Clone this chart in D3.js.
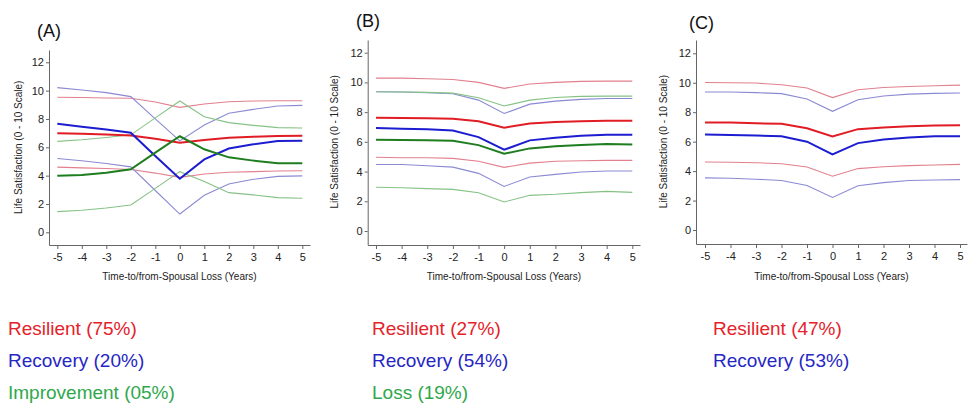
<!DOCTYPE html>
<meta charset="utf-8">
<style>
  body { margin: 0; background: #fff; }
  text { font-family: "Liberation Sans", Arial, sans-serif; }
</style>
<body></body>
<script src="https://d3js.org/d3.v7.min.js"></script>
<script>

var width = 968,
    height = 408;

var years = [-5, -4, -3, -2, -1, 0, 1, 2, 3, 4, 5];
var yTicks = [0, 2, 4, 6, 8, 10, 12];

// panel A
var aResMean = [7.0, 6.96, 6.91, 6.84, 6.6, 6.33, 6.52, 6.68, 6.75, 6.8, 6.82];
var aResHi   = [9.53, 9.51, 9.48, 9.46, 9.2, 8.82, 9.06, 9.22, 9.27, 9.29, 9.29];
var aResLo   = [4.6, 4.55, 4.5, 4.43, 4.18, 3.88, 4.12, 4.24, 4.28, 4.33, 4.35];
var aRecMean = [7.66, 7.45, 7.26, 7.03, 5.39, 3.78, 5.15, 5.91, 6.21, 6.45, 6.47];
var aRecHi   = [10.21, 10.05, 9.86, 9.58, 8.0, 6.45, 7.58, 8.4, 8.68, 8.92, 8.96];
var aRecLo   = [5.21, 5.05, 4.86, 4.62, 2.95, 1.29, 2.61, 3.41, 3.74, 3.95, 3.98];
var aImpMean = [3.99, 4.05, 4.2, 4.45, 5.62, 6.78, 5.86, 5.29, 5.06, 4.87, 4.87];
var aImpHi   = [6.42, 6.53, 6.69, 6.88, 8.08, 9.27, 8.16, 7.74, 7.55, 7.39, 7.36];
var aImpLo   = [1.46, 1.56, 1.72, 1.93, 3.1, 4.28, 3.58, 2.8, 2.64, 2.45, 2.4];

// panel B
var bResMean  = [7.62, 7.6, 7.58, 7.56, 7.38, 6.95, 7.24, 7.33, 7.38, 7.42, 7.42];
var bResHi    = [10.29, 10.29, 10.25, 10.2, 10.0, 9.6, 9.89, 10.0, 10.07, 10.09, 10.09];
var bResLo    = [4.96, 4.93, 4.93, 4.89, 4.69, 4.28, 4.57, 4.69, 4.73, 4.75, 4.75];
var bRecMean  = [6.93, 6.88, 6.84, 6.77, 6.32, 5.47, 6.1, 6.28, 6.41, 6.48, 6.48];
var bRecHi    = [9.37, 9.35, 9.31, 9.24, 8.81, 7.91, 8.54, 8.74, 8.86, 8.92, 8.92];
var bRecLo    = [4.48, 4.48, 4.39, 4.3, 3.88, 3.0, 3.63, 3.81, 3.97, 4.04, 4.04];
var bLossMean = [6.14, 6.12, 6.1, 6.08, 5.78, 5.2, 5.56, 5.7, 5.78, 5.85, 5.83];
var bLossHi   = [9.37, 9.36, 9.33, 9.28, 8.97, 8.41, 8.81, 8.99, 9.06, 9.08, 9.08];
var bLossLo   = [2.94, 2.91, 2.85, 2.8, 2.58, 1.95, 2.4, 2.47, 2.58, 2.67, 2.6];

// panel C
var cResMean = [7.3, 7.3, 7.25, 7.21, 6.91, 6.35, 6.85, 6.96, 7.05, 7.09, 7.12];
var cResHi   = [10.02, 10.0, 9.98, 9.86, 9.64, 8.99, 9.53, 9.68, 9.75, 9.8, 9.84];
var cResLo   = [4.62, 4.6, 4.57, 4.5, 4.28, 3.65, 4.17, 4.3, 4.37, 4.41, 4.46];
var cRecMean = [6.49, 6.46, 6.42, 6.37, 6.0, 5.14, 5.9, 6.15, 6.28, 6.37, 6.37];
var cRecHi   = [9.37, 9.37, 9.33, 9.26, 8.9, 8.06, 8.85, 9.1, 9.23, 9.28, 9.3];
var cRecLo   = [3.54, 3.51, 3.45, 3.36, 3.02, 2.21, 3.0, 3.22, 3.36, 3.4, 3.42];

var legendA = ["Resilient (75%)", "Recovery (20%)", "Improvement (05%)"];
var legendB = ["Resilient (27%)", "Recovery (54%)", "Loss (19%)"];
var legendC = ["Resilient (47%)", "Recovery (53%)"];

var thick = { red: "#e01c24", blue: "#1c1cd0", green: "#1e7d1e" },
    thin  = { red: "#e2808e", blue: "#8a8ad4", green: "#86c286" },
    textColor = { red: "#e5222a", blue: "#2626c4", green: "#2fa84c" };

var panels = [
  { label: "(A)", lx: 37, ly: 37, x0: 57.3, x1: 302.3, y0: 232.3, y12: 62.3,
    axL: 49, axR: 310, axT: 50, axB: 245, titleX: 18, legX: 8, legend: legendA,
    series: [
      { c: "red",   m: aResMean, hi: aResHi, lo: aResLo },
      { c: "blue",  m: aRecMean, hi: aRecHi, lo: aRecLo },
      { c: "green", m: aImpMean, hi: aImpHi, lo: aImpLo }
    ] },
  { label: "(B)", lx: 356, ly: 27, x0: 376, x1: 632.3, y0: 231, y12: 52.7,
    axL: 367.7, axR: 640, axT: 40, axB: 245, titleX: 334, legX: 372, legend: legendB,
    series: [
      { c: "red",   m: bResMean, hi: bResHi, lo: bResLo },
      { c: "blue",  m: bRecMean, hi: bRecHi, lo: bRecLo },
      { c: "green", m: bLossMean, hi: bLossHi, lo: bLossLo }
    ] },
  { label: "(C)", lx: 689, ly: 29, x0: 705, x1: 960, y0: 230, y12: 53.3,
    axL: 696, axR: 967, axT: 40, axB: 244, titleX: 663, legX: 713, legend: legendC,
    series: [
      { c: "red",  m: cResMean, hi: cResHi, lo: cResLo },
      { c: "blue", m: cRecMean, hi: cRecHi, lo: cRecLo }
    ] }
];

var legendColors = ["red", "blue", "green"];

var svg = d3.select("body").append("svg")
    .attr("width", width)
    .attr("height", height);

panels.forEach(function(p) {
  var x = d3.scaleLinear().domain([-5, 5]).range([p.x0, p.x1]),
      y = d3.scaleLinear().domain([0, 12]).range([p.y0, p.y12]);

  // axis scales cover the full drawn axis line
  var xa = d3.scaleLinear().domain([x.invert(p.axL), x.invert(p.axR)]).range([p.axL, p.axR]),
      ya = d3.scaleLinear().domain([y.invert(p.axB), y.invert(p.axT)]).range([p.axB, p.axT]);

  var g = svg.append("g");

  // plain hyphen for negatives, like the original
  var fmt = function(d) { return String(d); };

  var gx = g.append("g")
      .attr("transform", "translate(0," + p.axB + ")")
      .call(d3.axisBottom(xa).tickValues(years).tickFormat(fmt)
        .tickSize(4).tickSizeOuter(0).tickPadding(4));
  var gy = g.append("g")
      .attr("transform", "translate(" + p.axL + ",0)")
      .call(d3.axisLeft(ya).tickValues(yTicks).tickFormat(fmt)
        .tickSize(3).tickSizeOuter(0).tickPadding(2));

  [gx, gy].forEach(function(a) {
    a.select(".domain").attr("stroke", "#666");
    a.selectAll(".tick line").attr("stroke", "#666");
    a.selectAll(".tick text")
        .attr("fill", "#222")
        .style("font-size", "11px")
        .style("font-family", "'Liberation Sans', Arial, sans-serif");
  });

  g.append("text")
      .attr("x", (p.axL + p.axR) / 2)
      .attr("y", 280)
      .attr("text-anchor", "middle")
      .attr("fill", "#222")
      .style("font-size", "10px")
      .text("Time-to/from-Spousal Loss (Years)");

  g.append("text")
      .attr("transform", "translate(" + p.titleX + "," + (p.y0 + p.y12) / 2 + ") rotate(-90)")
      .attr("text-anchor", "middle")
      .attr("dy", "0.35em")
      .attr("fill", "#222")
      .style("font-size", "10px")
      .text("Life Satisfaction (0 - 10 Scale)");

  g.append("text")
      .attr("x", p.lx)
      .attr("y", p.ly)
      .attr("fill", "#111")
      .style("font-size", "18px")
      .text(p.label);

  var line = d3.line()
      .x(function(d, i) { return x(years[i]); })
      .y(function(d) { return y(d); });

  p.series.forEach(function(s) {
    [s.hi, s.lo].forEach(function(arr) {
      g.append("path")
          .attr("d", line(arr))
          .attr("fill", "none")
          .attr("stroke", thin[s.c])
          .attr("stroke-width", 1.1);
    });
  });
  p.series.forEach(function(s) {
    g.append("path")
        .attr("d", line(s.m))
        .attr("fill", "none")
        .attr("stroke", thick[s.c])
        .attr("stroke-width", 2);
  });

  g.selectAll(".leg")
      .data(p.legend)
    .enter().append("text")
      .attr("x", p.legX)
      .attr("y", function(d, i) { return 335 + i * 32; })
      .attr("fill", function(d, i) { return textColor[legendColors[i]]; })
      .style("font-size", "19px")
      .text(function(d) { return d; });
});

</script>
